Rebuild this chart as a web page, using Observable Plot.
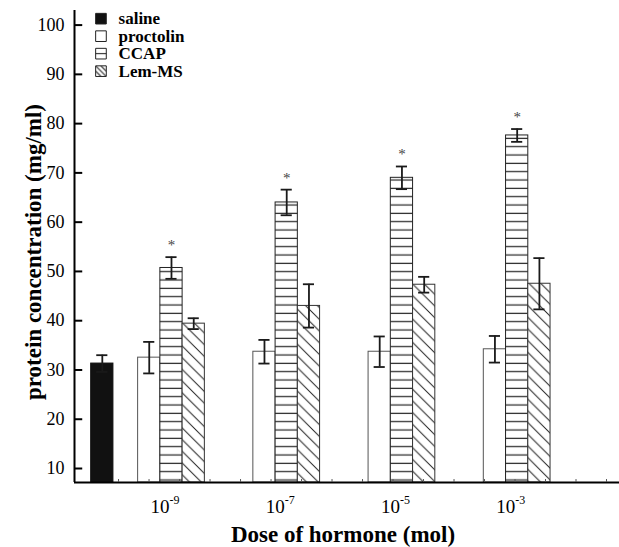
<!DOCTYPE html>
<html>
<head>
<meta charset="utf-8">
<script src="https://cdn.jsdelivr.net/npm/d3@7"></script>
<script src="https://cdn.jsdelivr.net/npm/@observablehq/plot@0.6"></script>
<style>
  html, body { margin: 0; padding: 0; background: #fff; }
  #chart { width: 619px; height: 547px; }
</style>
</head>
<body>
<div id="chart"></div>
<script>
// ---------- data ----------
const categories = ["saline", "proctolin", "CCAP", "Lem-MS"];
const doseBase = "10";
const doseExponents = ["-9", "-7", "-5", "-3"];

const salineValue = 31.3;
const salineError = 1.7;
const proctolinValues = [32.5, 33.7, 33.7, 34.2];
const proctolinErrors = [3.2, 2.4, 3.1, 2.7];
const ccapValues = [50.7, 64.0, 69.0, 77.6];
const ccapErrors = [2.2, 2.6, 2.3, 1.3];
const lemValues = [39.4, 43.0, 47.3, 47.5];
const lemErrors = [1.1, 4.4, 1.6, 5.2];
const significant = [true, true, true, true]; // asterisks above CCAP

const yTicks = [10, 20, 30, 40, 50, 60, 70, 80, 90, 100];

// ---------- layout ----------
const Y_MIN = 7.16, Y_MAX = 102.96;
const X_MAX = 24.5;          // x in "bar widths"
const SALINE_X = 0.75;
const GROUP0 = 2.86, GROUP_STEP = 5.18;
const CAP = 0.25;
const SERIF = "'Liberation Serif', 'Times New Roman', serif";

const fills = {
  "saline": "#111",
  "proctolin": "#fff",
  "CCAP": "url(#hatchH)",
  "Lem-MS": "url(#hatchD)"
};
const strokes = {
  "saline": "#111",
  "proctolin": "#555",
  "CCAP": "#222",
  "Lem-MS": "#333"
};
const legendFills = {
  "saline": "#111",
  "proctolin": "#fff",
  "CCAP": "url(#hatchHL)",
  "Lem-MS": "url(#hatchDL)"
};

const rows = [{series: "saline", x1: SALINE_X, value: salineValue, err: salineError, sig: false}];
const seriesData = [
  ["proctolin", proctolinValues, proctolinErrors],
  ["CCAP", ccapValues, ccapErrors],
  ["Lem-MS", lemValues, lemErrors]
];
doseExponents.forEach((d, i) => {
  seriesData.forEach(([s, vals, errs], j) => {
    rows.push({series: s, x1: GROUP0 + i * GROUP_STEP + j, value: vals[i], err: errs[i],
               sig: s === "CCAP" && significant[i]});
  });
});
rows.forEach(r => { r.x2 = r.x1 + 1; r.cx = r.x1 + 0.5; });

const caps = rows.flatMap(r => [{cx: r.cx, y: r.value + r.err}, {cx: r.cx, y: r.value - r.err}]);
const groupCenter = i => GROUP0 + i * GROUP_STEP + 1.5;

// minor ticks along the x axis
const minorTicks = d3.range(0, 17).map(k => 1.98 + k * 1.371);

const legendY = i => 101.3 - i * 3.55;

const svg = Plot.plot({
  width: 619,
  height: 547,
  marginLeft: 74,
  marginRight: 0,
  marginTop: 10,
  marginBottom: 65,
  style: {fontFamily: SERIF, fontSize: "18px", color: "#000", background: "#fff"},
  x: {domain: [0, X_MAX], axis: null},
  y: {domain: [Y_MIN, Y_MAX], ticks: yTicks, tickSize: 0, tickPadding: 10, label: null, tickFormat: d => String(d)},
  color: {type: "identity"},
  marks: [
    // bars
    Plot.rect(rows, {x1: "x1", x2: "x2", y1: () => Y_MIN, y2: "value",
      fill: d => fills[d.series], stroke: d => strokes[d.series], strokeWidth: 1}),
    // error bars
    Plot.ruleX(rows, {x: "cx", y1: d => d.value - d.err, y2: d => d.value + d.err, stroke: "#1a1a1a", strokeWidth: 1.8}),
    Plot.ruleY(caps, {y: "y", x1: d => d.cx - CAP, x2: d => d.cx + CAP, stroke: "#1a1a1a", strokeWidth: 1.8}),
    // significance asterisks
    Plot.text(rows.filter(d => d.sig), {x: "cx", y: d => d.value + d.err, text: () => "*",
      dy: -7, fontSize: 15, fill: "#444", lineAnchor: "bottom"}),
    // axes lines
    Plot.ruleX([0], {stroke: "#000", strokeWidth: 2}),
    Plot.ruleY([Y_MIN], {stroke: "#000", strokeWidth: 2.2}),
    Plot.ruleY(yTicks, {x1: 0, x2: 0.37, stroke: "#000", strokeWidth: 2}),
    Plot.ruleX(minorTicks, {y1: Y_MIN, y2: Y_MIN + 0.6, stroke: "#555", strokeWidth: 1}),
    // x tick labels 10^n
    Plot.text(doseExponents, {x: (d, i) => groupCenter(i), frameAnchor: "bottom", text: () => doseBase,
      textAnchor: "end", dx: -2, dy: 30.7, lineAnchor: "bottom", fontSize: 19}),
    Plot.text(doseExponents, {x: (d, i) => groupCenter(i), frameAnchor: "bottom", text: d => d,
      textAnchor: "start", dx: -2, dy: 21.5, lineAnchor: "bottom", fontSize: 12}),
    // axis titles
    Plot.text(["Dose of hormone (mol)"], {frameAnchor: "bottom", textAnchor: "middle", dx: -4, dy: 59,
      lineAnchor: "bottom", fontSize: 23, fontWeight: "bold"}),
    Plot.text(["protein concentration (mg/ml)"], {frameAnchor: "left", textAnchor: "middle", rotate: -90,
      dx: -34, dy: 5.5, lineAnchor: "bottom", fontSize: 23, fontWeight: "bold"}),
    // legend
    Plot.dot(categories, {x: () => 1.19, y: (d, i) => legendY(i), symbol: "square", r: 6,
      fill: d => legendFills[d], stroke: "#222", strokeWidth: 1}),
    Plot.text(categories, {x: () => 1.98, y: (d, i) => legendY(i), text: d => d, textAnchor: "start",
      fontSize: 17, fontWeight: "bold"})
  ]
});

d3.select(svg).insert("defs", ":first-child").html(`
  <pattern id="hatchH" patternUnits="userSpaceOnUse" x="0" y="0" width="10" height="8.333">
    <rect width="10" height="8.333" fill="#fff"/>
    <line x1="0" x2="10" y1="5" y2="5" stroke="#222" stroke-width="1.2"/>
  </pattern>
  <pattern id="hatchD" patternUnits="userSpaceOnUse" x="0" y="0" width="11.7" height="11.7">
    <rect width="11.7" height="11.7" fill="#fff"/>
    <path d="M0,0L11.7,11.7M-2,9.7L2,13.7M9.7,-2L13.7,2" stroke="#222" stroke-width="1"/>
  </pattern>
  <pattern id="hatchHL" patternUnits="objectBoundingBox" patternContentUnits="objectBoundingBox" width="1" height="1">
    <rect width="1" height="1" fill="#fff"/>
    <line x1="0" x2="1" y1="0.5" y2="0.5" stroke="#222" stroke-width="0.1"/>
  </pattern>
  <pattern id="hatchDL" patternUnits="objectBoundingBox" patternContentUnits="objectBoundingBox" width="1" height="1">
    <rect width="1" height="1" fill="#fff"/>
    <path d="M0,0L1,1M0.5,0L1,0.5M0,0.5L0.5,1" stroke="#222" stroke-width="0.1"/>
  </pattern>
`);

// make sure every label uses the serif face (including axis tick labels)
d3.select(svg).selectAll("text").attr("font-family", SERIF);

document.getElementById("chart").appendChild(svg);
</script>
</body>
</html>
